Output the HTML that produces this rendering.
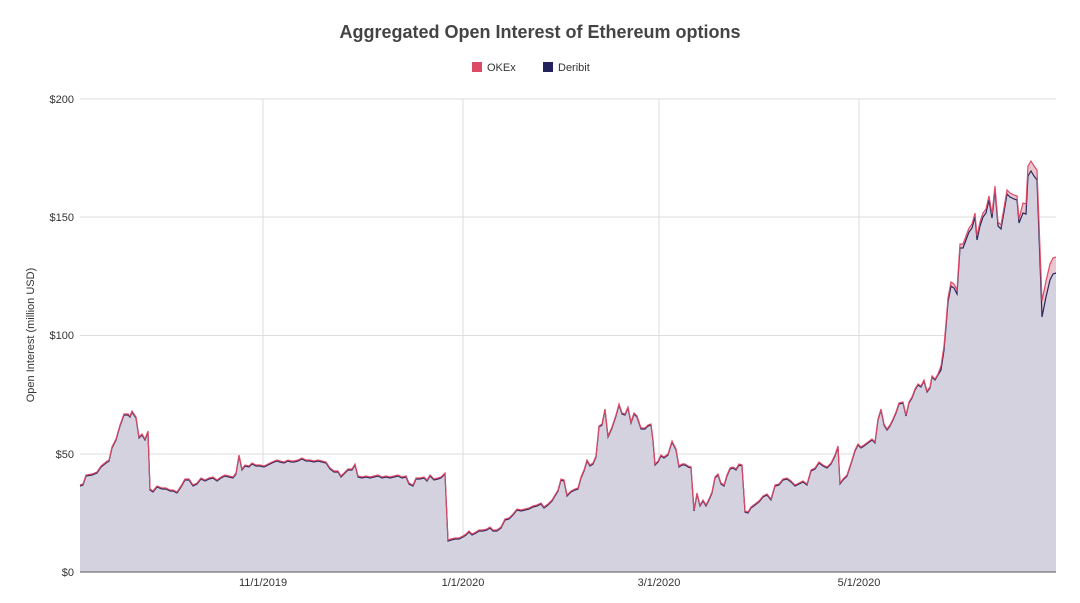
<!DOCTYPE html>
<html><head><meta charset="utf-8"><style>
html,body{margin:0;padding:0;background:#fff;}
svg{display:block;font-family:"Liberation Sans",Arial,sans-serif;}
</style></head><body>
<svg id="s" width="1080" height="603" viewBox="0 0 1080 603">
<text x="540" y="38" text-anchor="middle" font-size="18" font-weight="bold" fill="#444">Aggregated Open Interest of Ethereum options</text>
<rect x="472" y="62" width="10" height="10" fill="#dd4a68"/>
<text x="487" y="71" font-size="11" fill="#333">OKEx</text>
<rect x="543" y="62" width="10" height="10" fill="#24225a"/>
<text x="558" y="71" font-size="11" fill="#333">Deribit</text>
<g stroke="#ddd" stroke-width="1">
<line x1="80" y1="99" x2="1056" y2="99"/>
<line x1="80" y1="217" x2="1056" y2="217"/>
<line x1="80" y1="335.5" x2="1056" y2="335.5"/>
<line x1="80" y1="454" x2="1056" y2="454"/>
<line x1="263" y1="99" x2="263" y2="572"/>
<line x1="463" y1="99" x2="463" y2="572"/>
<line x1="659" y1="99" x2="659" y2="572"/>
<line x1="859" y1="99" x2="859" y2="572"/>
</g>
<g font-size="11" fill="#333" text-anchor="end">
<text x="74" y="103">$200</text><text x="74" y="221">$150</text><text x="74" y="339">$100</text><text x="74" y="458">$50</text><text x="74" y="576">$0</text>
</g>
<g font-size="11" fill="#333" text-anchor="middle">
<text x="263" y="586">11/1/2019</text><text x="463" y="586">1/1/2020</text><text x="659" y="586">3/1/2020</text><text x="859" y="586">5/1/2020</text>
</g>
<text transform="translate(34,335) rotate(-90)" font-size="11" fill="#333" text-anchor="middle">Open Interest (million USD)</text>
<g id="series"></g>
<line x1="80" y1="572" x2="1056" y2="572" stroke="#555" stroke-width="1"/>
</svg>
<script>
var d=[80,486,83,485,86,476,92,475,97,473,101,467,106,463,109,461,112,448,116,440,120,426,124,415,128,415,130,417,132,412,136,418,139,438,142,435,145,440,148,432,150,490,153,492,157,487,162,489,166,489,170,491,173,491,177,493,181,487,185,480,189,480,193,486,197,484,201,479,205,481,209,479,213,478,217,481,221,478,225,476,229,477,233,478,236,474,239,456,242,470,245,466,249,467,252,464,256,466,260,466,264,467,268,465,272,463,277,461,280,462,284,463,288,461,291,462,294,462,298,461,302,459,306,461,310,461,314,462,318,461,322,462,326,463,330,469,334,472,338,472,341,477,344,474,348,470,352,470,355,465,358,477,362,478,366,477,370,478,374,477,378,476,382,478,386,477,390,478,394,477,398,476,402,478,406,477,409,484,413,486,416,479,420,479,424,478,427,481,430,476,434,480,438,479,441,478,445,474,448,541,451,540,455,539,459,539,463,537,466,535,469,532,472,535,476,533,479,531,483,531,487,530,490,528,493,531,497,531,501,528,505,520,509,519,513,515,517,510,521,511,525,510,529,509,533,507,537,506,541,504,544,508,548,505,552,501,555,496,558,491,561,480,564,481,567,496,571,492,575,490,578,489,581,478,584,471,587,461,590,466,593,464,596,457,599,427,602,425,605,410,608,437,612,428,616,416,619,405,622,414,625,415,628,408,631,423,634,414,637,417,641,429,645,429,648,426,651,425,653,441,655,465,658,462,661,456,664,458,668,455,672,442,676,450,679,467,682,465,685,465,688,467,691,468,694,511,697,494,700,506,703,501,706,506,709,500,712,493,715,478,718,475,721,484,724,486,727,476,730,469,733,468,736,470,739,465,742,466,745,512,748,513,751,508,755,505,759,502,763,497,767,495,771,500,775,486,779,485,783,480,787,479,791,482,795,486,799,484,803,482,807,485,811,471,815,469,819,463,823,466,827,468,831,464,835,456,838,447,840,484,843,480,847,476,851,464,855,451,858,445,861,448,864,446,868,443,872,440,875,443,878,420,881,410,884,425,887,430,890,426,893,420,896,413,899,404,903,403,906,416,909,403,912,398,915,390,918,385,921,387,924,381,927,392,930,388,932,377,935,380,938,375,941,370,944,350,946,327,948,302,951,286,954,288,957,294,960,248,963,248,966,240,969,232,972,228,975,217,977,240,980,226,983,217,986,213,989,200,992,218,995,190,998,226,1001,229,1004,212,1007,194,1010,197,1014,199,1017,200,1019,223,1023,213,1026,214,1028,176,1031,171,1034,176,1037,180,1042,317,1046,297,1050,280,1053,274,1056,273];
function off(x){if(x<940)return 1;if(x<1020)return 4;if(x<1040)return 10;return 16;}
var dp="",op="";
for(var i=0;i<d.length;i+=2){var x=d[i],y=d[i+1];dp+=(i?"L":"M")+x+","+y;op+=(i?"L":"M")+x+","+(y-off(x));}
var g=document.getElementById("series");
g.innerHTML='<path d="'+op+'L1056,572L80,572Z" fill="#e9c6d0"/>'+
'<path d="'+dp+'L1056,572L80,572Z" fill="#d4d2de"/>'+
'<path d="'+dp+'" fill="none" stroke="#2a285c" stroke-width="1.2"/>'+
'<path d="'+op+'" fill="none" stroke="#dd4a68" stroke-width="1.2"/>';
</script>
</body></html>
